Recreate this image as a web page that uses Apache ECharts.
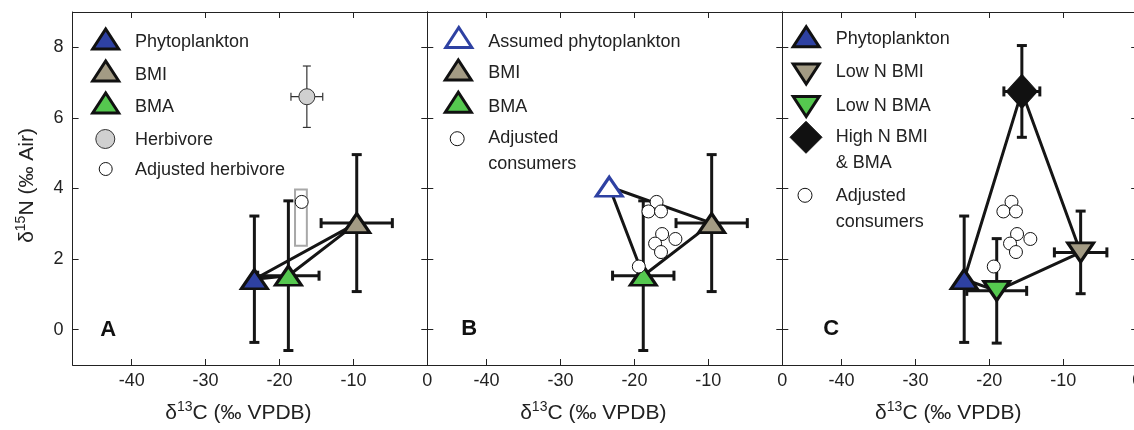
<!DOCTYPE html>
<html><head><meta charset="utf-8">
<script src="https://cdn.jsdelivr.net/npm/echarts@6/dist/echarts.min.js"></script>
<style>html,body{margin:0;padding:0;background:#fff}#c{width:1134px;height:430px}</style>
</head><body><div id="c"></div>
<script>
// ---- data ----
const xTicks = [-40, -30, -20, -10, 0];
const yTicks = [0, 2, 4, 6, 8];
// [x, y, xErr, yErr]
const aPhyto = [-23.4, 1.43, 0, 1.79];
const aBMI = [-9.55, 3.02, 4.82, 1.94];
const aBMA = [-18.8, 1.53, 4.15, 2.12];
const aHerbivore = [-16.3, 6.6, 2.15, 0.87];
const aAdjHerbivore = [-17.0, 3.62];
const aAdjRange = [-17.9, -16.3, 2.38, 3.97]; // xMin, xMax, yMin, yMax
const bAssumedPhyto = [-23.4, 4.05];
const bBMI = [-9.55, 3.02, 4.82, 1.94];
const bBMA = [-18.8, 1.53, 4.15, 2.12];
const consumers = [[-17.0, 3.62], [-18.1, 3.35], [-16.4, 3.35], [-16.25, 2.71], [-14.45, 2.57], [-17.2, 2.44], [-16.4, 2.2], [-19.4, 1.79]];
const cPhyto = [-23.4, 1.43, 0, 1.79];
const cLowBMI = [-7.65, 2.19, 3.55, 1.17];
const cLowBMA = [-19.0, 1.1, 4.05, 1.48];
const cHighN = [-15.6, 6.75, 2.43, 1.3];
const legendA = ['Phytoplankton', 'BMI', 'BMA', 'Herbivore', 'Adjusted herbivore'];
const legendB = ['Assumed phytoplankton', 'BMI', 'BMA', 'Adjusted\nconsumers'];
const legendC = ['Phytoplankton', 'Low N BMI', 'Low N BMA', 'High N BMI\n& BMA', 'Adjusted\nconsumers'];
const panelLetters = ['A', 'B', 'C'];

// ---- styles ----
const FONT = '"Liberation Sans", Arial, Helvetica, sans-serif';
const TXT = '#222';
const BLUE = '#2e41a2', TAN = '#a39b84', GREEN = '#55c84f', GRAY = '#d0d0d0';
const gridsPx = [
  {left: 72.6, width: 354.7},
  {left: 427.3, width: 355},
  {left: 782.3, width: 354.9}
];

const nameRich = {
  n: {fontSize: 21, fontFamily: FONT, color: TXT, lineHeight: 26},
  s: {fontSize: 14, fontFamily: FONT, color: TXT, lineHeight: 14, verticalAlign: 'top'}
};

const grid = gridsPx.map(g => ({left: g.left, width: g.width, top: 12, bottom: 65, show: false, outerBoundsMode: 'none', containLabel: false}));
const xAxis = [], yAxis = [];
gridsPx.forEach((g, i) => {
  const tick = {show: true, inside: true, length: 6, customValues: xTicks, lineStyle: {color: TXT, width: 1}};
  xAxis.push({
    gridIndex: i, type: 'value', min: -48, max: 0, position: 'bottom',
    axisLine: {show: true, onZero: false, lineStyle: {color: TXT, width: 1}},
    axisTick: tick,
    axisLabel: {customValues: xTicks, fontSize: 18, fontFamily: FONT, color: TXT, margin: 7},
    splitLine: {show: false},
    name: '{n|δ}{s|13}{n|C (‰ VPDB)}', nameLocation: 'middle', nameGap: 35,
    nameTextStyle: {rich: nameRich, padding: [0, 23, 0, 0]}
  });
  xAxis.push({
    gridIndex: i, type: 'value', min: -48, max: 0, position: 'top',
    axisLine: {show: true, onZero: false, lineStyle: {color: TXT, width: 1}},
    axisTick: tick, axisLabel: {show: false}, splitLine: {show: false}
  });
  const ytick = {show: true, inside: true, length: 6, customValues: yTicks, lineStyle: {color: TXT, width: 1}};
  yAxis.push({
    gridIndex: i, type: 'value', min: -1, max: 9, position: 'left',
    axisLine: {show: true, onZero: false, lineStyle: {color: TXT, width: 1}},
    axisTick: ytick,
    axisLabel: {show: i === 0, customValues: yTicks, fontSize: 18, fontFamily: FONT, color: TXT, margin: 9},
    splitLine: {show: false},
    name: i === 0 ? '{n|δ}{s|15}{n|N (‰ Air)}' : '', nameLocation: 'middle', nameGap: 32, nameRotate: 90,
    nameTextStyle: {rich: nameRich, padding: [0, 0, 0, 6]}
  });
  yAxis.push({
    gridIndex: i, type: 'value', min: -1, max: 9, position: 'right',
    axisLine: {show: true, onZero: false, lineStyle: {color: TXT, width: 1}},
    axisTick: ytick, axisLabel: {show: false}, splitLine: {show: false}
  });
});

function errRender(lw, cap, color) {
  return function (params, api) {
    const x = api.value(0), y = api.value(1), xe = api.value(2), ye = api.value(3);
    const st = {stroke: color, lineWidth: lw};
    const ch = [];
    const ln = (a, b) => ch.push({type: 'line', shape: {x1: a[0], y1: a[1], x2: b[0], y2: b[1]}, style: st});
    if (ye > 0) {
      const t = api.coord([x, y + ye]), b = api.coord([x, y - ye]);
      ln(t, b);
      ln([t[0] - cap, t[1]], [t[0] + cap, t[1]]);
      ln([b[0] - cap, b[1]], [b[0] + cap, b[1]]);
    }
    if (xe > 0) {
      const l = api.coord([x - xe, y]), r = api.coord([x + xe, y]);
      ln(l, r);
      ln([l[0], l[1] - cap], [l[0], l[1] + cap]);
      ln([r[0], r[1] - cap], [r[0], r[1] + cap]);
    }
    return {type: 'group', children: ch};
  };
}
function errSeries(i, data, lw, cap, color) {
  return {type: 'custom', xAxisIndex: 2 * i, yAxisIndex: 2 * i, z: 2, clip: false,
    renderItem: errRender(lw, cap, color), data: data, encode: {x: 0, y: 1}, silent: true};
}
function lineSeries(i, pts) {
  return {type: 'line', xAxisIndex: 2 * i, yAxisIndex: 2 * i, z: 3, symbol: 'none', silent: true,
    lineStyle: {color: '#151515', width: 3}, data: pts.map(p => [p[0], p[1]]), animation: false};
}
function marker(p, symbol, size, fill, stroke, bw, rot) {
  return {value: [p[0], p[1]], symbol: symbol, symbolSize: size, symbolRotate: rot || 0,
    itemStyle: {color: fill, borderColor: stroke, borderWidth: bw, opacity: 1}};
}
function markerSeries(i, items, z) {
  return {type: 'scatter', xAxisIndex: 2 * i, yAxisIndex: 2 * i, z: z || 5, silent: true, data: items, animation: false};
}
const TRI = [26, 19];

const series = [
  // Panel A
  errSeries(0, [aPhyto, aBMI, aBMA], 3, 5, '#151515'),
  errSeries(0, [aHerbivore], 1.2, 4, '#333'),
  {type: 'custom', xAxisIndex: 0, yAxisIndex: 0, z: 2, silent: true, clip: false,
    data: [aAdjRange], encode: {x: [0, 1], y: [2, 3]},
    renderItem: function (params, api) {
      const p1 = api.coord([api.value(0), api.value(3)]);
      const p2 = api.coord([api.value(1), api.value(2)]);
      return {type: 'rect', shape: {x: p1[0], y: p1[1], width: p2[0] - p1[0], height: p2[1] - p1[1]},
        style: {fill: 'none', stroke: '#a8a8a8', lineWidth: 2}};
    }},
  lineSeries(0, [aPhyto, aBMI, aBMA, aPhyto]),
  markerSeries(0, [
    marker(aPhyto, 'triangle', TRI, BLUE, '#111', 3),
    marker(aBMI, 'triangle', TRI, TAN, '#111', 3),
    marker(aBMA, 'triangle', TRI, GREEN, '#111', 3),
    marker(aHerbivore, 'circle', 16, GRAY, '#333', 1),
    marker(aAdjHerbivore, 'circle', 13, '#fff', '#111', 1)
  ]),
  // Panel B
  errSeries(1, [bBMI, bBMA], 3, 5, '#151515'),
  lineSeries(1, [bAssumedPhyto, bBMI, bBMA, bAssumedPhyto]),
  markerSeries(1, [
    marker(bAssumedPhyto, 'triangle', TRI, '#fff', BLUE, 3),
    marker(bBMI, 'triangle', TRI, TAN, '#111', 3),
    marker(bBMA, 'triangle', TRI, GREEN, '#111', 3)
  ]),
  markerSeries(1, consumers.map(p => marker(p, 'circle', 13, '#fff', '#111', 1)), 6),
  // Panel C
  errSeries(2, [cPhyto, cLowBMI, cLowBMA, cHighN], 3, 5, '#151515'),
  lineSeries(2, [cPhyto, cHighN, cLowBMI, cLowBMA, cPhyto]),
  markerSeries(2, [
    marker(cPhyto, 'triangle', TRI, BLUE, '#111', 3),
    marker(cLowBMI, 'triangle', TRI, TAN, '#111', 3, 180),
    marker(cLowBMA, 'triangle', TRI, GREEN, '#111', 3, 180),
    marker(cHighN, 'diamond', [31, 34], '#111', '#111', 1)
  ]),
  markerSeries(2, consumers.map(p => marker(p, 'circle', 13, '#fff', '#111', 1)), 6)
];

// ---- legend graphics ----
function triUp(cx, cy, fill, stroke) {
  const w = 26, h = 20;
  return {type: 'polygon', shape: {points: [[cx - w / 2, cy + h / 2], [cx + w / 2, cy + h / 2], [cx, cy - h / 2]]},
    style: {fill: fill, stroke: stroke, lineWidth: 3, lineJoin: 'miter'}};
}
function triDown(cx, cy, fill, stroke) {
  const w = 26, h = 20;
  return {type: 'polygon', shape: {points: [[cx - w / 2, cy - h / 2], [cx + w / 2, cy - h / 2], [cx, cy + h / 2]]},
    style: {fill: fill, stroke: stroke, lineWidth: 3, lineJoin: 'miter'}};
}
function dot(cx, cy, r, fill, stroke) {
  return {type: 'circle', shape: {cx: cx, cy: cy, r: r}, style: {fill: fill, stroke: stroke, lineWidth: 1}};
}
function diamond(cx, cy) {
  return {type: 'polygon', shape: {points: [[cx, cy - 16], [cx + 16, cy], [cx, cy + 16], [cx - 16, cy]]},
    style: {fill: '#111', stroke: '#111', lineWidth: 1}};
}
function txt(x, y, s) {
  return {type: 'text', style: {text: s, x: x, y: y, font: '18px ' + FONT, fill: TXT, verticalAlign: 'middle', lineHeight: 26}};
}
function letter(x, y, s) {
  return {type: 'text', style: {text: s, x: x, y: y, font: 'bold 22px ' + FONT, fill: '#111', align: 'center', verticalAlign: 'middle'}};
}

const graphic = [
  triUp(105.7, 39, BLUE, '#111'), triUp(105.7, 71, TAN, '#111'), triUp(105.7, 103, GREEN, '#111'),
  dot(105.3, 139, 9.5, GRAY, '#333'), dot(105.7, 169, 6.5, '#fff', '#111'),
  txt(135, 42, legendA[0]), txt(135, 75, legendA[1]), txt(135, 107, legendA[2]), txt(135, 140.5, legendA[3]), txt(135, 170, legendA[4]),
  triUp(458.8, 37.5, '#fff', BLUE), triUp(458.3, 70, TAN, '#111'), triUp(458.3, 102.3, GREEN, '#111'),
  dot(457.2, 138.7, 7, '#fff', '#111'),
  txt(488.3, 41.7, legendB[0]), txt(488.3, 73.5, legendB[1]), txt(488.3, 106.8, legendB[2]), txt(488.3, 151.5, legendB[3]),
  triUp(806.2, 36.7, BLUE, '#111'), triDown(806.2, 74, TAN, '#111'), triDown(806.2, 106.5, GREEN, '#111'),
  diamond(806, 137.3), dot(805, 195.3, 7, '#fff', '#111'),
  txt(835.7, 39.5, legendC[0]), txt(835.7, 72.5, legendC[1]), txt(835.7, 105.8, legendC[2]), txt(835.7, 150.5, legendC[3]), txt(835.7, 209, legendC[4]),
  letter(108.3, 329.7, panelLetters[0]), letter(469.2, 328.5, panelLetters[1]), letter(831.3, 329, panelLetters[2])
];

const chart = echarts.init(document.getElementById('c'), null, {renderer: 'canvas'});
chart.setOption({animation: false, grid: grid, xAxis: xAxis, yAxis: yAxis, series: series, graphic: graphic});
</script></body></html>
